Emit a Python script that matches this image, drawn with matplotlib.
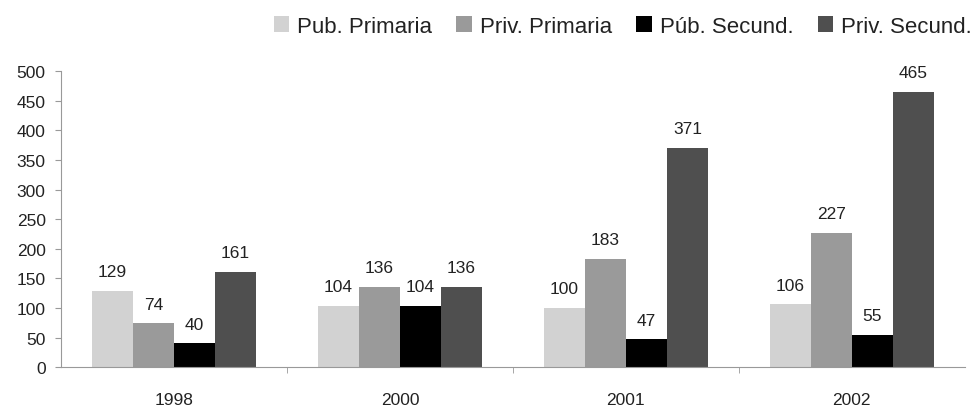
import matplotlib.pyplot as plt
import numpy as np

plt.rcParams["font.family"] = ["Liberation Sans", "DejaVu Sans"]

years = ["1998", "2000", "2001", "2002"]
series = ["Pub. Primaria", "Priv. Primaria", "Púb. Secund.", "Priv. Secund."]
pub_prim = [129, 104, 100, 106]
priv_prim = [74, 136, 183, 227]
pub_sec = [40, 104, 47, 55]
priv_sec = [161, 136, 371, 465]
colors = ["#d2d2d2", "#9a9a9a", "#000000", "#4f4f4f"]

fig = plt.figure(figsize=(9.74, 4.10), dpi=100)
ax = fig.add_axes([0.0626, 0.102, 0.928, 0.722])

x = np.arange(len(years))
w = 0.182
for k, (name, vals) in enumerate(zip(series, [pub_prim, priv_prim, pub_sec, priv_sec])):
    pos = x + (k - 1.5) * w
    ax.bar(pos, vals, width=w, color=colors[k], label=name)
    for p, v in zip(pos, vals):
        ax.text(p, v + 20, str(v), ha="center", va="bottom", fontsize=12.5, color="#222222")

ax.set_xlim(-0.5, 3.5)
ax.set_ylim(0, 500)
ax.set_yticks(np.arange(0, 501, 50))
ax.set_xticks(x)
ax.set_xticklabels(years)
ax.set_xticks([0.5, 1.5, 2.5], minor=True)
ax.tick_params(axis="x", which="major", length=0, pad=18, labelsize=12.5, labelcolor="#222222")
ax.tick_params(axis="x", which="minor", length=4, color="#999999")
ax.tick_params(axis="y", length=4, color="#999999", labelsize=12.5, labelcolor="#222222", pad=7)
for side in ["top", "right"]:
    ax.spines[side].set_visible(False)
ax.spines["left"].set_color("#999999")
ax.spines["bottom"].set_color("#999999")

fig.legend(loc="upper right", bbox_to_anchor=(1.0, 0.965), ncol=4, frameon=False,
           fontsize=16, handlelength=0.7, handleheight=0.7, handletextpad=0.35,
           columnspacing=1.1, borderpad=0.1, borderaxespad=0, labelcolor="#222222")

fig.savefig("out.png", dpi=100)
